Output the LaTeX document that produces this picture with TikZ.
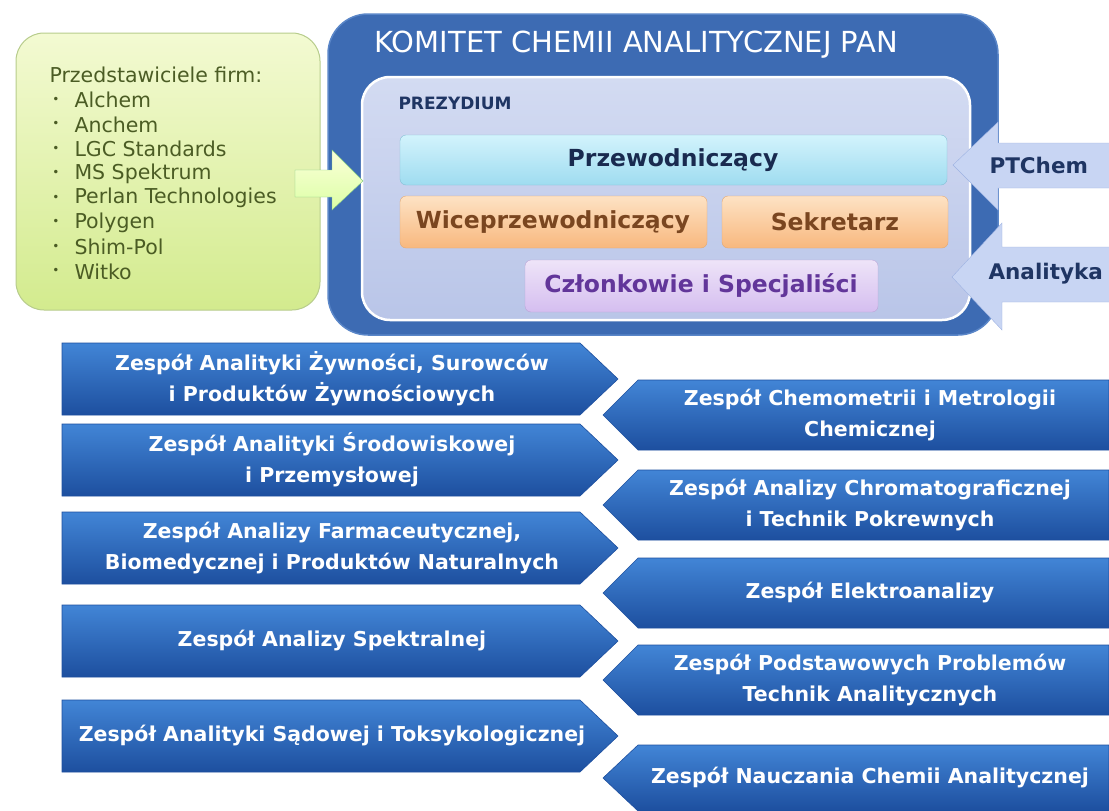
\documentclass[tikz,border=0pt]{standalone}
\usepackage{fontspec}
\setmainfont{DejaVu Sans}
\usetikzlibrary{calc}
\definecolor{komitet}{HTML}{3D6BB3}
\definecolor{komitetbrzeg}{HTML}{5A86C8}
\definecolor{prezgora}{HTML}{D3DBF2}
\definecolor{prezdol}{HTML}{B9C5E8}
\definecolor{granat}{HTML}{1F3563}
\definecolor{zgora}{HTML}{4285D6}
\definecolor{zdol}{HTML}{1D4F9F}
\definecolor{zielgora}{HTML}{F3FAD2}
\definecolor{zieldol}{HTML}{D3EB8E}
\definecolor{zielbrzeg}{HTML}{B7CC8C}
\definecolor{zieltekst}{HTML}{4B5C24}
\definecolor{strzalka}{HTML}{C8D5F3}
\definecolor{strzalkabrzeg}{HTML}{9DB2E2}
\definecolor{cyjangora}{HTML}{D2F3FC}
\definecolor{cyjandol}{HTML}{9FDCF0}
\definecolor{cyjanbrzeg}{HTML}{86BFD6}
\definecolor{pomgora}{HTML}{FDE2C4}
\definecolor{pomdol}{HTML}{F8B87E}
\definecolor{pombrzeg}{HTML}{E2A873}
\definecolor{fiolgora}{HTML}{EEE4F8}
\definecolor{fioldol}{HTML}{D5BEF0}
\definecolor{fiolbrzeg}{HTML}{BBA5D8}
\definecolor{fioltekst}{HTML}{62369A}
\definecolor{braz}{HTML}{7A4620}

\begin{document}
\begin{tikzpicture}[x=1pt,y=-1pt,
    zespol/.style={text=white,font=\bfseries\fontsize{20.5}{31}\selectfont,align=center},
    chevron/.style={top color=zgora,bottom color=zdol,draw=zdol,line width=0.6pt},
    funkcja/.style={font=\bfseries\fontsize{23.5}{28}\selectfont},
    firma/.style={text=zieltekst,font=\fontsize{20.5}{24}\selectfont,anchor=west}]
\useasboundingbox (0,0) rectangle (1109,811);
% firmy
\draw[zielbrzeg,line width=1pt,rounded corners=28pt,top color=zielgora,bottom color=zieldol]
    (16,33) rectangle (320,310);
\node[firma] (firmy) at (46,75) {Przedstawiciele firm:};
\foreach \f [count=\i from 0] in {Alchem,Anchem,LGC Standards,MS Spektrum,
        Perlan Technologies,Polygen,Shim-Pol,Witko}{
    \node[text=zieltekst,font=\fontsize{12}{12}\selectfont] (kropka\i) at (56,100+24.5*\i) {\textbullet};
    \node[firma] (firma\i) at (71,100+24.5*\i) {\f};
}
% komitet
\draw[komitetbrzeg,line width=1.5pt,rounded corners=40pt,fill=komitet] (328,14) rectangle (998,335);
\node[text=white,font=\fontsize{29}{34}\selectfont,anchor=west] (komitet) at (371,45)
    {KOMITET CHEMII ANALITYCZNEJ PAN};
\draw[white,line width=2.5pt,rounded corners=28pt,top color=prezgora,bottom color=prezdol]
    (362,77) rectangle (970,320);
\node[text=granat,font=\bfseries\fontsize{17}{20}\selectfont,anchor=west] (prezydium) at (395,103) {PREZYDIUM};
\draw[rounded corners=6pt,top color=cyjangora,bottom color=cyjandol,draw=cyjanbrzeg]
    (400,135) rectangle (947,185);
\node[funkcja,text=granat!80!black] (przew) at (673,160) {Przewodniczący};
\draw[rounded corners=6pt,top color=pomgora,bottom color=pomdol,draw=pombrzeg]
    (400,196) rectangle (707,248);
\node[funkcja,text=braz] (wice) at (553,222) {Wiceprzewodniczący};
\draw[rounded corners=6pt,top color=pomgora,bottom color=pomdol,draw=pombrzeg]
    (722,196) rectangle (948,248);
\node[funkcja,text=braz] (sekretarz) at (835,222) {Sekretarz};
\draw[rounded corners=6pt,top color=fiolgora,bottom color=fioldol,draw=fiolbrzeg]
    (525,260) rectangle (878,312);
\node[funkcja,text=fioltekst] (czlonkowie) at (701,286) {Członkowie i Specjaliści};
% strzalki
\draw[green!40!gray!70,top color=green!8!yellow!15,bottom color=green!40!yellow!35]
    (295,170) -- (332,170) -- (332,150) -- (363,181) -- (332,210) -- (332,197) -- (295,197) -- cycle;
\draw[strzalkabrzeg,fill=strzalka]
    (1109,143) -- (998,143) -- (998,122) -- (953,165) -- (998,210) -- (998,188) -- (1109,188);
\node[text=granat,font=\bfseries\fontsize{21.5}{26}\selectfont,anchor=west] (ptchem) at (986,165) {PTChem};
\draw[strzalkabrzeg,fill=strzalka]
    (1109,247) -- (1002,247) -- (1002,223) -- (952,277) -- (1002,330) -- (1002,302) -- (1109,302);
\node[text=granat,font=\bfseries\fontsize{21.5}{26}\selectfont,anchor=west] (analityka) at (985,274) {Analityka};
% zespoly
\foreach \t/\txt [count=\i] in {343/{Zespół Analityki Żywności, Surowców\\i Produktów Żywnościowych},
        424/{Zespół Analityki Środowiskowej\\i Przemysłowej},
        512/{Zespół Analizy Farmaceutycznej,\\Biomedycznej i Produktów Naturalnych},
        605/{Zespół Analizy Spektralnej},
        700/{Zespół Analityki Sądowej i Toksykologicznej}}{
    \path[chevron] (62,\t) -- (580,\t) -- (618,\t+36) -- (580,\t+72) -- (62,\t+72) -- cycle;
    \node[zespol] (lewy\i) at (332,\t+36) {\txt};
}
\foreach \t/\h/\txt [count=\i] in {380/70/{Zespół Chemometrii i Metrologii\\Chemicznej},
        470/70/{Zespół Analizy Chromatograficznej\\i Technik Pokrewnych},
        558/70/{Zespół Elektroanalizy},
        645/70/{Zespół Podstawowych Problemów\\Technik Analitycznych},
        745/66/{Zespół Nauczania Chemii Analitycznej}}{
    \path[chevron] (1109,\t) -- (638,\t) -- (603,\t+\h/2) -- (638,\t+\h) -- (1109,\t+\h) -- cycle;
    \node[zespol] (prawy\i) at (870,\t+\h/2) {\txt};
}
\end{tikzpicture}
\end{document}
